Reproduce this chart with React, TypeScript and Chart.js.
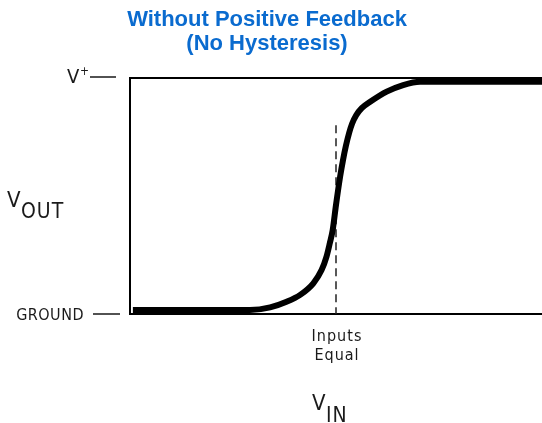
import React, { useEffect, useRef } from "react";
import { Chart, registerables } from "chart.js";

Chart.register(...registerables);

// VIN (0..100, "Inputs Equal" at 50) vs VOUT (0 = GROUND, 100 = V+)
const vin = [0.7, 29.1, 34.0, 38.0, 41.3, 44.5, 46.5, 47.7, 48.5, 49.2, 50.0, 51.0, 51.7, 52.4, 53.2, 53.9, 54.9, 56.3, 58.3, 62.3, 66.3, 70.4, 100];
const vout = [1.7, 1.7, 2.8, 5.2, 8.1, 13.0, 18.6, 24.3, 30.0, 35.6, 46.2, 58.2, 65.2, 71.2, 76.8, 80.6, 84.2, 87.3, 89.9, 94.2, 97.0, 98.4, 98.4];
const titleLines = ["Without Positive Feedback", "(No Hysteresis)"];
const yTickLabels = ["GROUND", "V"];
const yTickValues = [0, 100];
const inputsEqualX = 50;
const inputsEqualLabel = ["Inputs", "Equal"];
const dashTopY = 80;

const COND = '"DejaVu Sans Condensed", "DejaVu Sans", sans-serif';

const decorPlugin = {
  id: "decor",
  beforeDatasetsDraw(chart: any) {
    const { ctx, chartArea: a, scales } = chart;
    const x = scales.x, y = scales.y;
    ctx.save();
    // frame: top, left, bottom
    ctx.strokeStyle = "#000";
    ctx.lineWidth = 2;
    ctx.beginPath();
    ctx.moveTo(a.right, a.top);
    ctx.lineTo(a.left, a.top);
    ctx.lineTo(a.left, a.bottom);
    ctx.lineTo(a.right, a.bottom);
    ctx.stroke();
    // dashed "inputs equal" line
    ctx.setLineDash([8, 5]);
    ctx.lineWidth = 1.5;
    ctx.strokeStyle = "#222";
    ctx.beginPath();
    const px = x.getPixelForValue(inputsEqualX);
    ctx.moveTo(px, y.getPixelForValue(dashTopY));
    ctx.lineTo(px, y.getPixelForValue(0));
    ctx.stroke();
    ctx.restore();
  },
  afterDraw(chart: any) {
    const { ctx, scales } = chart;
    const x = scales.x, y = scales.y;
    ctx.save();
    // title
    ctx.fillStyle = "#0a6bcf";
    ctx.font = 'bold 22px "Liberation Sans", Arial, sans-serif';
    ctx.textAlign = "center";
    ctx.textBaseline = "alphabetic";
    ctx.fillText(titleLines[0], 267, 26);
    ctx.fillText(titleLines[1], 267, 50);

    ctx.fillStyle = "#1a1a1a";
    ctx.strokeStyle = "#1a1a1a";
    ctx.lineWidth = 1.5;
    // y tick dashes
    const yg = y.getPixelForValue(yTickValues[0]);
    const yv = y.getPixelForValue(yTickValues[1]);
    ctx.beginPath();
    ctx.moveTo(93, yg);
    ctx.lineTo(120, yg);
    ctx.moveTo(90, yv - 1);
    ctx.lineTo(116, yv - 1);
    ctx.stroke();
    // GROUND
    ctx.textAlign = "right";
    (ctx as any).letterSpacing = "0.5px";
    ctx.font = "16px " + COND;
    ctx.fillText(yTickLabels[0], 84, yg + 6);
    // V+
    (ctx as any).letterSpacing = "0px";
    ctx.textAlign = "left";
    ctx.font = "20px " + COND;
    ctx.fillText(yTickLabels[1], 67, yv + 5);
    ctx.font = "12px " + COND;
    ctx.fillText("+", 80, yv - 3);
    // VOUT
    ctx.font = "22px " + COND;
    ctx.fillText("V", 7, 207);
    (ctx as any).letterSpacing = "1px";
    ctx.font = "21px " + COND;
    ctx.fillText("OUT", 21, 218);
    // Inputs Equal
    ctx.textAlign = "center";
    ctx.font = "16px " + COND;
    const ix = x.getPixelForValue(inputsEqualX);
    ctx.fillText(inputsEqualLabel[0], ix + 1, 341);
    ctx.fillText(inputsEqualLabel[1], ix + 1, 360);
    // VIN
    ctx.textAlign = "left";
    (ctx as any).letterSpacing = "0px";
    ctx.font = "22px " + COND;
    ctx.fillText("V", 312, 410);
    (ctx as any).letterSpacing = "1px";
    ctx.font = "21px " + COND;
    ctx.fillText("IN", 326, 422);
    ctx.restore();
  },
};

export default function App() {
  const ref = useRef<HTMLCanvasElement>(null);
  useEffect(() => {
    if (!ref.current) return;
    const chart = new Chart(ref.current, {
      type: "line",
      data: {
        datasets: [
          {
            data: vin.map((v, i) => ({ x: v, y: vout[i] })),
            borderColor: "#000",
            borderWidth: 6,
            borderJoinStyle: "round",
            pointRadius: 0,
            cubicInterpolationMode: "monotone",
            fill: false,
          },
        ],
      },
      options: {
        animation: false,
        responsive: true,
        maintainAspectRatio: false,
        layout: { padding: { left: 130, right: 0, top: 78, bottom: 109 } },
        plugins: { legend: { display: false }, tooltip: { enabled: false }, title: { display: false } },
        scales: {
          x: { type: "linear", min: 0, max: 100, display: false },
          y: { type: "linear", min: 0, max: 100, display: false },
        },
      },
      plugins: [decorPlugin],
    });
    return () => chart.destroy();
  }, []);
  return (
    <div style={{ position: "fixed", left: 0, top: 0, width: 542, height: 423, background: "#fff" }}>
      <canvas ref={ref} />
    </div>
  );
}
